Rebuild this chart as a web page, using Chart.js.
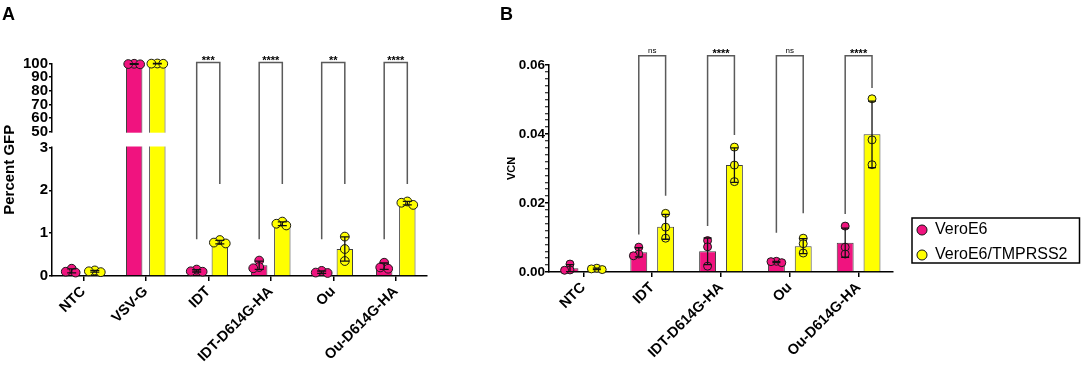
<!DOCTYPE html>
<html><head><meta charset="utf-8">
<script src="https://cdn.jsdelivr.net/npm/chart.js@4.4.1/dist/chart.umd.min.js"></script>
<style>
html,body{margin:0;padding:0;background:#fff;width:1084px;height:368px;overflow:hidden;position:relative;}
canvas{position:absolute;}
</style></head><body>
<canvas id="cA" width="440" height="368" style="left:0;top:0"></canvas>
<canvas id="cB" width="410" height="368" style="left:498px;top:0"></canvas>
<canvas id="cL" width="178" height="70" style="left:906px;top:206px"></canvas>
<script>
// ---------- shared ----------
const seriesNames = ['VeroE6', 'VeroE6/TMPRSS2'];
const seriesColors = ['#F0137F', '#FFFF00'];

// ---------- Panel A : Percent GFP ----------
const gfpCategories = ['NTC', 'VSV-G', 'IDT', 'IDT-D614G-HA', 'Ou', 'Ou-D614G-HA'];
const gfpVeroMean = [0.12, 99.6, 0.12, 0.25, 0.09, 0.23];
const gfpTmprssMean = [0.11, 99.9, 0.79, 1.22, 0.63, 1.70];
const gfpVeroReps = [[0.17, 0.10, 0.08], [99.8, 99.6, 99.4], [0.15, 0.11, 0.10], [0.36, 0.21, 0.18], [0.12, 0.08, 0.07], [0.31, 0.20, 0.17]];
const gfpTmprssReps = [[0.13, 0.11, 0.09], [100, 99.9, 99.8], [0.84, 0.78, 0.76], [1.27, 1.22, 1.18], [0.92, 0.63, 0.35], [1.74, 1.71, 1.66]];
const gfpTicks = [0, 1, 2, 3, 50, 60, 70, 80, 90, 100];
const gfpBreak = [3, 50];
const gfpSigGroups = ['IDT', 'IDT-D614G-HA', 'Ou', 'Ou-D614G-HA'];
const gfpSigLabels = ['***', '****', '**', '****'];
const gfpSigLeftEnd = [0.86, 0.86, 0.86, 0.86];
const gfpSigRightEnd = [2.15, 2.15, 2.15, 2.15];
const gfpSigTop = 100.7;

// ---------- Panel B : VCN ----------
const vcnCategories = ['NTC', 'IDT', 'IDT-D614G-HA', 'Ou', 'Ou-D614G-HA'];
const vcnVeroMean = [0.0011, 0.0057, 0.0060, 0.0029, 0.0085];
const vcnTmprssMean = [0.0009, 0.0131, 0.0310, 0.0075, 0.0399];
const vcnVeroReps = [[0.0023, 0.0006, 0.0005], [0.0072, 0.0052, 0.0047], [0.0091, 0.0073, 0.0017], [0.0031, 0.0030, 0.0027], [0.0133, 0.0072, 0.0052]];
const vcnTmprssReps = [[0.0011, 0.0009, 0.0007], [0.0170, 0.0130, 0.0098], [0.0362, 0.0310, 0.0262], [0.0098, 0.0082, 0.0055], [0.0502, 0.0383, 0.0311]];
const vcnTicks = [0, 0.02, 0.04, 0.06];
const vcnMinorStep = 0.002;
const vcnSigGroups = ['IDT', 'IDT-D614G-HA', 'Ou', 'Ou-D614G-HA'];
const vcnSigLabels = ['ns', '****', 'ns', '****'];
const vcnSigLeftEnd = [0.0109, 0.0133, 0.0114, 0.0168];
const vcnSigRightEnd = [0.0221, 0.0397, 0.0170, 0.0533];
const vcnSigTop = 0.0627;

// ---------- setup ----------
Chart.defaults.font.family = '"Liberation Sans", Arial, Helvetica, sans-serif';
Chart.defaults.color = '#000';

// broken linear axis (lower segment 0..3, upper 50..100)
const LOW_FRAC = 128.5 / 212.5, GAP_FRAC = 15.8 / 212.5;
class BrokenLinearScale extends Chart.LinearScale {
  _seg() {
    const h = this.bottom - this.top;
    const yLo = this.bottom - h * LOW_FRAC;
    const yHi = yLo - h * GAP_FRAC;
    return {yLo, yHi};
  }
  getPixelForValue(value) {
    const [lo, hi] = gfpBreak;
    const {yLo, yHi} = this._seg();
    if (value <= lo) return this.bottom - (value - this.min) / (lo - this.min) * (this.bottom - yLo);
    if (value >= hi) return yHi - (value - hi) / (this.max - hi) * (yHi - this.top);
    return yLo - (value - lo) / (hi - lo) * (yLo - yHi);
  }
  getValueForPixel(p) {
    const [lo, hi] = gfpBreak;
    const {yLo, yHi} = this._seg();
    if (p >= yLo) return this.min + (this.bottom - p) / (this.bottom - yLo) * (lo - this.min);
    if (p <= yHi) return hi + (yHi - p) / (yHi - this.top) * (this.max - hi);
    return lo + (yLo - p) / (yLo - yHi) * (hi - lo);
  }
}
BrokenLinearScale.id = 'brokenLinear';
BrokenLinearScale.defaults = {ticks: {callback: Chart.Ticks.formatters.numeric}};
Chart.register(BrokenLinearScale);

function sdOf(vals) {
  const mu = vals.reduce((a, v) => a + v, 0) / vals.length;
  return Math.sqrt(vals.reduce((a, v) => a + (v - mu) * (v - mu), 0) / (vals.length - 1));
}

function makeOverlay(opt) {
  return {
    id: 'overlay',
    afterDatasetsDraw(chart) {
      const ctx = chart.ctx, ys = chart.scales.y, area = chart.chartArea;
      ctx.save();
      if (opt.breakAt) {
        const yA = ys.getPixelForValue(opt.breakAt[1]), yB = ys.getPixelForValue(opt.breakAt[0]);
        ctx.fillStyle = '#fff';
        ctx.fillRect(area.left - 1.5, yA + 1, area.right - area.left + 3, yB - yA - 2);
      }
      opt.reps.forEach((groups, di) => {
        const meta = chart.getDatasetMeta(di);
        groups.forEach((vals, i) => {
          const cx = meta.data[i].x;
          const pts = [];
          vals.forEach(v => {
            const py = ys.getPixelForValue(v);
            let px = cx;
            for (const k of [0, -1, 1, -1.5, 1.5]) {
              const cand = cx + k * opt.r * 0.9;
              if (pts.every(p => Math.hypot(p[0] - cand, p[1] - py) >= opt.r * 1.2)) { px = cand; break; }
            }
            pts.push([px, py]);
          });
          ctx.lineWidth = 1; ctx.strokeStyle = '#1a1a1a'; ctx.fillStyle = opt.colors[di];
          pts.forEach(([px, py]) => { ctx.beginPath(); ctx.arc(px, py, opt.r, 0, 2 * Math.PI); ctx.fill(); ctx.stroke(); });
          // error bar mean +/- SD
          const m = opt.means[di][i], sd = sdOf(vals);
          const yT = ys.getPixelForValue(m + sd), yBt = ys.getPixelForValue(Math.max(0, m - sd));
          ctx.strokeStyle = '#111'; ctx.lineWidth = 1.3;
          ctx.beginPath();
          ctx.moveTo(cx, yT); ctx.lineTo(cx, yBt);
          ctx.moveTo(cx - opt.cap, yT); ctx.lineTo(cx + opt.cap, yT);
          ctx.moveTo(cx - opt.cap, yBt); ctx.lineTo(cx + opt.cap, yBt);
          ctx.stroke();
        });
      });
      // significance brackets
      const s = opt.sig;
      s.groups.forEach((g, k) => {
        const i = opt.categories.indexOf(g);
        const xl = chart.getDatasetMeta(0).data[i].x, xr = chart.getDatasetMeta(1).data[i].x;
        const yt = ys.getPixelForValue(s.top), yl = ys.getPixelForValue(s.left[k]), yr = ys.getPixelForValue(s.right[k]);
        ctx.strokeStyle = '#5a5a5a'; ctx.lineWidth = 1.5;
        ctx.beginPath(); ctx.moveTo(xl, yl); ctx.lineTo(xl, yt); ctx.lineTo(xr, yt); ctx.lineTo(xr, yr); ctx.stroke();
        ctx.fillStyle = '#000'; ctx.textAlign = 'center'; ctx.textBaseline = 'alphabetic';
        const lab = s.labels[k];
        if (lab.startsWith('*')) { ctx.font = 'bold 11px "Liberation Sans", Arial'; ctx.fillText(lab, (xl + xr) / 2, yt + 1.5); }
        else { ctx.font = '8px "Liberation Sans", Arial'; ctx.fillText(lab, (xl + xr) / 2, yt - 3); }
      });
      ctx.restore();
    }
  };
}

function barDatasets(m0, m1, pct, bpct) {
  return [m0, m1].map((d, i) => ({
    label: seriesNames[i], data: d, backgroundColor: seriesColors[i],
    borderColor: '#404040', borderWidth: 1, categoryPercentage: pct, barPercentage: bpct
  }));
}

function xAxis(h) {
  return {
    offset: true,
    grid: {offset: false, drawOnChartArea: false, tickLength: 5, color: '#000', lineWidth: 1.5},
    border: {color: '#000', width: 1.5},
    ticks: {autoSkip: false, maxRotation: 45, minRotation: 45, padding: 2, color: '#000', font: {size: 14.5, weight: 'bold'}},
    afterFit: s => { s.height = h; }
  };
}

// ---------- Chart A ----------
new Chart(document.getElementById('cA'), {
  type: 'bar',
  data: {labels: gfpCategories, datasets: barDatasets(gfpVeroMean, gfpTmprssMean, 0.74, 0.71)},
  options: {
    responsive: false, animation: false, events: [],
    layout: {padding: {left: 2, right: 13, top: 0, bottom: 0}},
    plugins: {
      legend: {display: false}, tooltip: {enabled: false},
      title: {display: true, text: 'A', align: 'start', color: '#000', font: {size: 18, weight: 'bold', lineHeight: 1.2}, padding: {top: 4.7, bottom: 37.2}}
    },
    scales: {
      x: xAxis(92),
      y: {
        type: 'brokenLinear', min: 0, max: 100,
        afterBuildTicks: s => { s.ticks = gfpTicks.map(v => ({value: v})); },
        grid: {drawOnChartArea: false, tickLength: 3, color: '#000', lineWidth: 1.5},
        border: {color: '#000', width: 1.5},
        ticks: {autoSkip: false, padding: 1, color: '#000', font: {size: 15, weight: 'bold'}, callback: v => String(v)},
        title: {display: true, text: 'Percent GFP', color: '#000', font: {size: 15, weight: 'bold', lineHeight: 1}, padding: {top: 0, bottom: 0}},
        afterFit: s => { s.width = 50; }
      }
    }
  },
  plugins: [makeOverlay({
    breakAt: gfpBreak, r: 4.4, cap: 4.5, colors: seriesColors, categories: gfpCategories,
    means: [gfpVeroMean, gfpTmprssMean], reps: [gfpVeroReps, gfpTmprssReps],
    sig: {groups: gfpSigGroups, labels: gfpSigLabels, left: gfpSigLeftEnd, right: gfpSigRightEnd, top: gfpSigTop}
  })]
});

// ---------- Chart B ----------
const isMajor = v => vcnTicks.some(t => Math.abs(t - v) < 1e-9);
new Chart(document.getElementById('cB'), {
  type: 'bar',
  data: {labels: vcnCategories, datasets: barDatasets(vcnVeroMean, vcnTmprssMean, 0.78, 0.63)},
  options: {
    responsive: false, animation: false, events: [],
    layout: {padding: {left: 2, right: 15, top: 0, bottom: 0}},
    plugins: {
      legend: {display: false}, tooltip: {enabled: false},
      title: {display: true, text: 'B', align: 'start', color: '#000', font: {size: 18, weight: 'bold', lineHeight: 1.2}, padding: {top: 4.7, bottom: 38.7}}
    },
    scales: {
      x: xAxis(96),
      y: {
        min: vcnTicks[0], max: vcnTicks[vcnTicks.length - 1],
        afterBuildTicks: s => {
          const n = Math.round((s.max - s.min) / vcnMinorStep);
          const t = [];
          for (let i = 0; i <= n; i++) t.push({value: +(s.min + i * vcnMinorStep).toFixed(4)});
          s.ticks = t;
        },
        grid: {drawOnChartArea: false, tickLength: 4, color: '#000', lineWidth: 1.5, tickWidth: c => (c.tick && isMajor(c.tick.value)) ? 1.5 : 1},
        border: {color: '#000', width: 1.5},
        ticks: {autoSkip: false, padding: 0, color: '#000', font: {size: 13.5, weight: 'bold'}, callback: v => isMajor(v) ? v.toFixed(2) : ''},
        title: {display: true, text: 'VCN', color: '#000', font: {size: 11, weight: 'bold', lineHeight: 1.2}, padding: {top: 5, bottom: 0}},
        afterFit: s => { s.width = 49; }
      }
    }
  },
  plugins: [makeOverlay({
    breakAt: null, r: 4, cap: 4, colors: seriesColors, categories: vcnCategories,
    means: [vcnVeroMean, vcnTmprssMean], reps: [vcnVeroReps, vcnTmprssReps],
    sig: {groups: vcnSigGroups, labels: vcnSigLabels, left: vcnSigLeftEnd, right: vcnSigRightEnd, top: vcnSigTop}
  })]
});

// ---------- Legend ----------
const legendBox = {
  id: 'legendBox',
  afterDraw(chart) {
    const hb = chart.legend.legendHitBoxes;
    if (!hb || !hb.length) return;
    const left = hb[0].left - 5, top = hb[0].top - 4;
    const right = Math.max(...hb.map(b => b.left + b.width)) + 12;
    const bottom = hb[hb.length - 1].top + hb[hb.length - 1].height;
    const ctx = chart.ctx;
    ctx.save(); ctx.strokeStyle = '#000'; ctx.lineWidth = 1.5;
    ctx.strokeRect(left, top, right - left, bottom - top);
    ctx.restore();
  }
};
new Chart(document.getElementById('cL'), {
  type: 'bar',
  data: {labels: [], datasets: seriesNames.map((n, i) => ({label: n, data: [], backgroundColor: seriesColors[i], borderColor: '#111', borderWidth: 1}))},
  options: {
    responsive: false, animation: false, events: [],
    layout: {padding: {left: 2, top: 7}},
    scales: {x: {display: false}, y: {display: false}},
    plugins: {
      tooltip: {enabled: false},
      legend: {position: 'top', align: 'start', maxHeight: 200,
        labels: {usePointStyle: true, pointStyle: 'circle', boxWidth: 10, boxHeight: 7.1, padding: 9, color: '#000', font: {size: 16}}}
    }
  },
  plugins: [legendBox]
});
</script></body></html>
